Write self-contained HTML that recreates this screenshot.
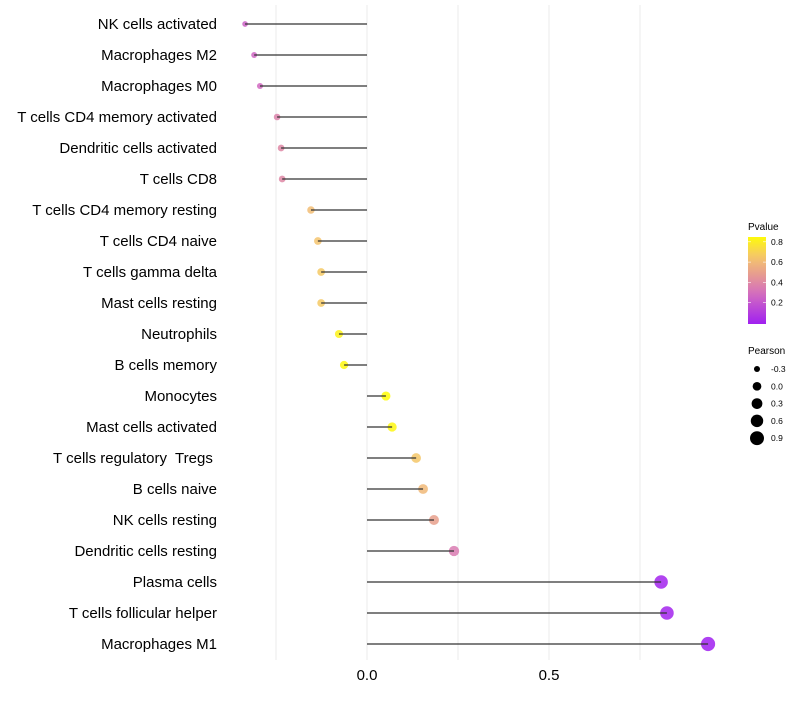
<!DOCTYPE html>
<html><head><meta charset="utf-8"><style>
body{margin:0;background:#fff;}
svg{font-family:"Liberation Sans",Arial,sans-serif;}
text{white-space:pre;}
</style></head><body>
<svg id="chart" width="800" height="700"></svg>
<script>
const categories=["NK cells activated","Macrophages M2","Macrophages M0","T cells CD4 memory activated","Dendritic cells activated","T cells CD8","T cells CD4 memory resting","T cells CD4 naive","T cells gamma delta","Mast cells resting","Neutrophils","B cells memory","Monocytes","Mast cells activated","T cells regulatory  Tregs ","B cells naive","NK cells resting","Dendritic cells resting","Plasma cells","T cells follicular helper","Macrophages M1"];
const pearson=[-0.335,-0.31,-0.294,-0.247,-0.236,-0.233,-0.154,-0.135,-0.126,-0.126,-0.077,-0.063,0.052,0.069,0.135,0.154,0.184,0.239,0.808,0.824,0.937];
const pvalues=[0.25,0.27,0.28,0.38,0.4,0.4,0.62,0.65,0.67,0.67,0.82,0.84,0.86,0.84,0.66,0.6,0.5,0.35,0.02,0.02,0.0];
const xTicks=[0,0.5];
const xTickLabels=["0.0","0.5"];
const minorGrid=[-0.25,0.25,0.75];
const colorLegendTicks=[0.2,0.4,0.6,0.8];
const sizeLegendValues=[-0.3,0.0,0.3,0.6,0.9];

const NS="http://www.w3.org/2000/svg";
const svg=document.getElementById('chart');
function el(t,a,p){const e=document.createElementNS(NS,t);for(const k in a)e.setAttribute(k,a[k]);(p||svg).appendChild(e);return e;}
const xScale=v=>367+v*364;
const yScale=i=>24+i*31;
const rScale=v=>Math.max(1.7,Math.sqrt(Math.max(0,19+33*v)));
const stops=[[0,[160,32,240]],[0.3,[212,110,190]],[0.5,[232,160,140]],[0.65,[244,196,110]],[0.87,[255,255,0]]];
function color(p){for(let i=1;i<stops.length;i++){if(p<=stops[i][0]){const a=stops[i-1],b=stops[i];const t=(p-a[0])/(b[0]-a[0]);const c=a[1].map((v,j)=>Math.round(v+(b[1][j]-v)*t));return `rgb(${c})`;}}return 'rgb(255,255,0)';}
const pY=p=>323-p*101.5;

minorGrid.concat(xTicks).forEach(v=>{
  const g=el('line',{x1:xScale(v),x2:xScale(v),y1:5,y2:660,stroke:'#ebebeb','stroke-width':1});
  
  
});
xTicks.forEach((v,i)=>{
  const t=el('text',{x:xScale(v),y:680,'text-anchor':'middle','font-size':15,fill:'#000'});
  t.textContent=xTickLabels[i];
  
  
});
categories.forEach((c,i)=>{
  const y=yScale(i);
  const t=el('text',{x:217,y:y+5,'text-anchor':'end','font-size':15,fill:'#000'});
  t.textContent=c;
  
  
  const pt=el('circle',{cx:xScale(pearson[i]),cy:y,r:rScale(pearson[i]),fill:color(pvalues[i]),'fill-opacity':0.85});
  
  
  const ln=el('line',{x1:xScale(0),x2:xScale(pearson[i]),y1:y,y2:y,stroke:'#333','stroke-width':1.3});
  
  
});
const lt=el('text',{x:748,y:230,'font-size':10});lt.textContent='Pvalue';


const defs=el('defs',{});
const grad=el('linearGradient',{id:'pg',x1:0,y1:1,x2:0,y2:0},defs);
for(let k=0;k<=10;k++){const p=k*0.085;el('stop',{offset:(k/10),'stop-color':color(p)},grad);}
const bar=el('rect',{x:748,y:237,width:18,height:87,fill:'url(#pg)'});


colorLegendTicks.forEach(v=>{
  const t=el('text',{x:771,y:pY(v)+3,'font-size':8.5});t.textContent=v.toFixed(1);
  
  
  el('line',{x1:748,x2:751,y1:pY(v),y2:pY(v),stroke:'#fff','stroke-width':0.6});
  el('line',{x1:763,x2:766,y1:pY(v),y2:pY(v),stroke:'#fff','stroke-width':0.6});
});
const st=el('text',{x:748,y:354,'font-size':10});st.textContent='Pearson';


sizeLegendValues.forEach((v,i)=>{
  const y=369+i*17.3;
  const c=el('circle',{cx:757,cy:y,r:rScale(v),fill:'#000'});
  
  
  const t=el('text',{x:771,y:y+3,'font-size':8.5});t.textContent=v.toFixed(1);
  
  
});
</script>
</body></html>
